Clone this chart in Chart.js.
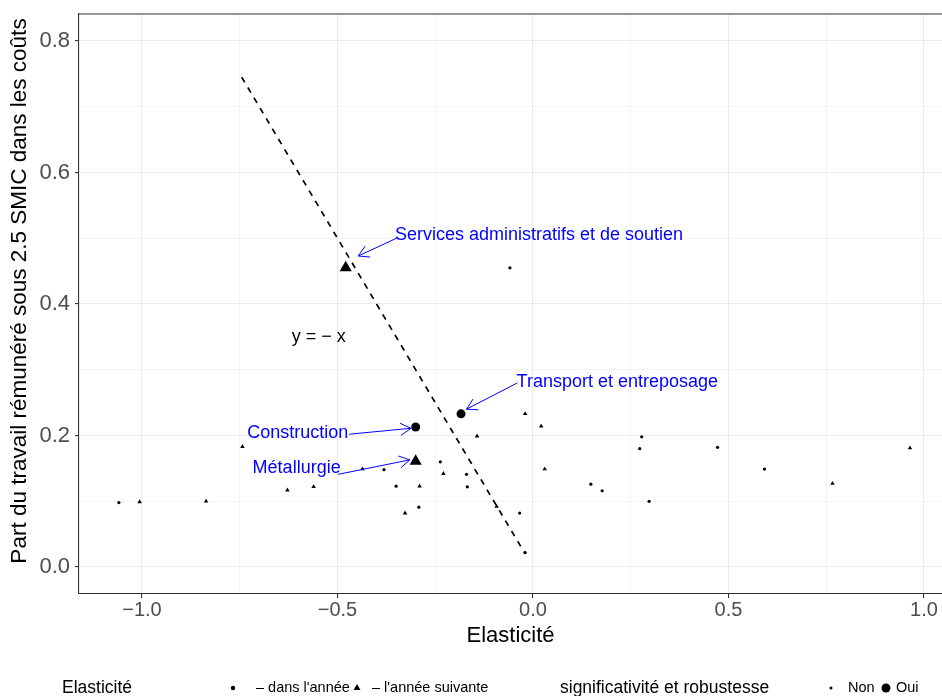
<!DOCTYPE html>
<html lang="fr">
<head>
<meta charset="utf-8">
<title>Elasticité et part du travail sous 2.5 SMIC</title>
<script src="https://cdn.jsdelivr.net/npm/chart.js@4.4.1/dist/chart.umd.min.js"></script>
<style>
  html, body { margin: 0; padding: 0; background: #fff; overflow: hidden; }
  #wrap { width: 942px; height: 696px; overflow: hidden; }
</style>
</head>
<body>
<!-- canvas is a few px wider than the page so the panel runs to the right edge -->
<div id="wrap"><canvas id="chart" width="949" height="696"></canvas></div>
<script>
/* ---------- data ---------- */

// élasticité dans l'année, non significative
const anneeX = [-1.059, -0.381, -0.350, -0.292, -0.237, -0.170, -0.168, -0.059, -0.034, -0.020,
                0.148, 0.177, 0.273, 0.278, 0.297, 0.472, 0.592];
const anneeY = [0.098, 0.148, 0.123, 0.091, 0.160, 0.141, 0.122, 0.455, 0.082, 0.022,
                0.126, 0.116, 0.180, 0.198, 0.100, 0.182, 0.149];

// élasticité l'année suivante, non significative
const suivanteX = [-1.006, -0.836, -0.743, -0.628, -0.561, -0.436, -0.327, -0.290, -0.229, -0.143,
                   -0.093, -0.020, 0.021, 0.030, 0.766, 0.964];
const suivanteY = [0.099, 0.100, 0.183, 0.117, 0.122, 0.149, 0.082, 0.123, 0.142, 0.199,
                   0.092, 0.233, 0.214, 0.149, 0.127, 0.181];

// secteurs significatifs et robustes
const sectorNames = ["Services administratifs et de soutien", "Transport et entreposage", "Construction", "Métallurgie"];
const sectorElast = [-0.479, -0.184, -0.300, -0.300];
const sectorShare = [0.455, 0.233, 0.213, 0.161];
const sectorLag   = ["suivante", "annee", "annee", "suivante"];

// droite y = -x
const refLineX = [-0.745, -0.020];
const refLineY = [0.745, 0.020];

// ticks
const xMajor = [-1.0, -0.5, 0.0, 0.5, 1.0];
const xMinor = [-0.75, -0.25, 0.25, 0.75];
const yMajor = [0.0, 0.2, 0.4, 0.6, 0.8];
const yMinor = [0.1, 0.3, 0.5, 0.7];

/* ---------- helpers ---------- */

const FONT = '"Liberation Sans", Arial, Helvetica, sans-serif';
const TICK_GREY = "#4d4d4d";
const GRID = "#ebebeb";
const PANEL = "#333333";
const BLUE = "#0000ff";

Chart.defaults.font.family = FONT;
Chart.defaults.color = "#000";

const toPoints = (xs, ys) => xs.map((x, i) => ({ x, y: ys[i] }));
const near = (list, v) => list.some(m => Math.abs(m - v) < 1e-9);
const fmt = v => (v < -1e-9 ? "\u2212" : "") + Math.abs(v).toFixed(1);

function sectorPoints(lag) {
    const pts = [];
    sectorNames.forEach((n, i) => {
        if (sectorLag[i] === lag) pts.push({ x: sectorElast[i], y: sectorShare[i] });
    });
    return pts;
}

// labels + arrows for the highlighted sectors (data units)
const sectorNotes = [
    { text: sectorNames[0], at: [-0.353, 0.505], from: [-0.349, 0.500], to: [-0.447, 0.473] },
    { text: sectorNames[1], at: [-0.042, 0.281], from: [-0.040, 0.280], to: [-0.170, 0.240] },
    { text: sectorNames[2], at: [-0.731, 0.204], from: [-0.470, 0.202], to: [-0.312, 0.211] },
    { text: sectorNames[3], at: [-0.717, 0.151], from: [-0.498, 0.141], to: [-0.315, 0.163] }
];

/* ---------- plugins ---------- */

const panelBorder = {
    id: "panelBorder",
    afterDraw(chart) {
        const { ctx, chartArea: a } = chart;
        ctx.save();
        ctx.strokeStyle = PANEL;
        ctx.lineWidth = 1.1;
        ctx.beginPath();
        ctx.moveTo(a.left, a.top);
        ctx.lineTo(a.right, a.top);
        ctx.stroke();
        ctx.restore();
    }
};

// y title drawn by hand so it can sit slightly above the panel centre
const yTitle = {
    id: "yTitle",
    afterDraw(chart) {
        const { ctx } = chart;
        ctx.save();
        ctx.translate(20, 291);
        ctx.rotate(-Math.PI / 2);
        ctx.font = "22.5px " + FONT;
        ctx.fillStyle = "#000";
        ctx.textAlign = "center";
        ctx.textBaseline = "middle";
        ctx.fillText("Part du travail rémunéré sous 2.5 SMIC dans les coûts", 0, 0);
        ctx.restore();
    }
};

const annotations = {
    id: "annotations",
    afterDatasetsDraw(chart) {
        const { ctx } = chart;
        const xs = chart.scales.x, ys = chart.scales.y;
        const px = p => [xs.getPixelForValue(p[0]), ys.getPixelForValue(p[1])];

        ctx.save();
        ctx.font = "18px " + FONT;
        ctx.textBaseline = "middle";

        // y = -x label
        ctx.fillStyle = "#000";
        ctx.textAlign = "center";
        const [lx, ly] = px([-0.548, 0.350]);
        ctx.fillText("y = \u2212 x", lx, ly);

        ctx.textAlign = "left";
        ctx.fillStyle = BLUE;
        ctx.strokeStyle = BLUE;
        ctx.lineWidth = 1;
        sectorNotes.forEach(n => {
            const [tx, ty] = px(n.at);
            ctx.fillText(n.text, tx, ty);

            const [x1, y1] = px(n.from);
            const [x2, y2] = px(n.to);
            const ang = Math.atan2(y2 - y1, x2 - x1);
            const head = 12, spread = Math.PI / 6;
            ctx.beginPath();
            ctx.moveTo(x1, y1);
            ctx.lineTo(x2, y2);
            ctx.moveTo(x2 - head * Math.cos(ang - spread), y2 - head * Math.sin(ang - spread));
            ctx.lineTo(x2, y2);
            ctx.lineTo(x2 - head * Math.cos(ang + spread), y2 - head * Math.sin(ang + spread));
            ctx.stroke();
        });
        ctx.restore();
    }
};

function drawMark(ctx, style, r, x, y) {
    ctx.beginPath();
    if (style === "circle") {
        ctx.arc(x, y, r, 0, Math.PI * 2);
    } else {
        ctx.moveTo(x, y - r);
        ctx.lineTo(x + r * 0.866, y + r * 0.5);
        ctx.lineTo(x - r * 0.866, y + r * 0.5);
        ctx.closePath();
    }
    ctx.fill();
}

const bottomLegend = {
    id: "bottomLegend",
    afterDraw(chart) {
        const { ctx } = chart;
        const y = 688;
        ctx.save();
        ctx.fillStyle = "#000";
        ctx.textBaseline = "middle";
        ctx.textAlign = "left";

        ctx.font = "17.5px " + FONT;
        ctx.fillText("Elasticité", 62, y);
        ctx.fillText("significativité et robustesse", 560, y);

        ctx.font = "14.5px " + FONT;
        drawMark(ctx, "circle", 2.2, 233, y);
        ctx.fillText("\u2013 dans l'année", 256, y);
        drawMark(ctx, "triangle", 4, 357, y);
        ctx.fillText("\u2013 l'année suivante", 372, y);

        drawMark(ctx, "circle", 1.5, 831, y);
        ctx.fillText("Non", 848, y);
        drawMark(ctx, "circle", 4.5, 886, y);
        ctx.fillText("Oui", 896, y);
        ctx.restore();
    }
};

/* ---------- chart ---------- */

const ctx = document.getElementById("chart").getContext("2d");

new Chart(ctx, {
    type: "scatter",
    data: {
        datasets: [
            {
                label: "dans l'année",
                data: toPoints(anneeX, anneeY),
                pointStyle: "circle",
                pointRadius: 1.6,
                backgroundColor: "#000",
                borderWidth: 0
            },
            {
                label: "l'année suivante",
                data: toPoints(suivanteX, suivanteY),
                pointStyle: "triangle",
                pointRadius: 2.6,
                backgroundColor: "#000",
                borderWidth: 0
            },
            {
                label: "dans l'année (significatif)",
                data: sectorPoints("annee"),
                pointStyle: "circle",
                pointRadius: 4.5,
                backgroundColor: "#000",
                borderWidth: 0
            },
            {
                label: "l'année suivante (significatif)",
                data: sectorPoints("suivante"),
                pointStyle: "triangle",
                pointRadius: 7,
                backgroundColor: "#000",
                borderWidth: 0
            },
            {
                label: "y = -x",
                type: "line",
                data: toPoints(refLineX, refLineY),
                showLine: true,
                borderColor: "#000",
                borderWidth: 1.7,
                borderDash: [6, 6],
                pointRadius: 0,
                fill: false
            }
        ]
    },
    options: {
        responsive: false,
        animation: false,
        devicePixelRatio: 1,
        events: [],
        layout: { padding: { top: 14, left: 0, right: 0, bottom: 0 } },
        plugins: {
            legend: { display: false },
            tooltip: { enabled: false }
        },
        scales: {
            x: {
                type: "linear",
                min: -1.161,
                max: 1.046,
                afterBuildTicks: s => { s.ticks = xMajor.concat(xMinor).sort((a, b) => a - b).map(v => ({ value: v })); },
                afterFit: s => { s.height = 102; s.paddingLeft = 0; s.paddingRight = 0; },
                border: { display: true, color: PANEL, width: 1.1 },
                grid: {
                    color: GRID,
                    lineWidth: c => near(xMajor, c.tick.value) ? 1.1 : 0.55,
                    tickLength: 4,
                    tickColor: c => near(xMajor, c.tick.value) ? PANEL : "rgba(0,0,0,0)"
                },
                ticks: {
                    autoSkip: false,
                    maxRotation: 0,
                    padding: 0,
                    color: TICK_GREY,
                    font: { size: 20 },
                    callback: v => near(xMajor, v) ? fmt(v) : ""
                },
                title: {
                    display: true,
                    text: "Elasticité",
                    color: "#000",
                    font: { size: 22 },
                    padding: { top: 0, bottom: 47 }
                }
            },
            y: {
                type: "linear",
                min: -0.041,
                max: 0.841,
                afterBuildTicks: s => { s.ticks = yMajor.concat(yMinor).sort((a, b) => a - b).map(v => ({ value: v })); },
                afterFit: s => { s.width = 79; s.paddingTop = 0; s.paddingBottom = 0; },
                border: { display: true, color: PANEL, width: 1.1 },
                grid: {
                    color: GRID,
                    lineWidth: c => near(yMajor, c.tick.value) ? 1.1 : 0.55,
                    tickLength: 4,
                    tickColor: c => near(yMajor, c.tick.value) ? PANEL : "rgba(0,0,0,0)"
                },
                ticks: {
                    autoSkip: false,
                    padding: 5,
                    color: TICK_GREY,
                    font: { size: 22 },
                    callback: v => near(yMajor, v) ? fmt(v) : ""
                }
            }
        }
    },
    plugins: [panelBorder, yTitle, annotations, bottomLegend]
});
</script>
</body>
</html>
